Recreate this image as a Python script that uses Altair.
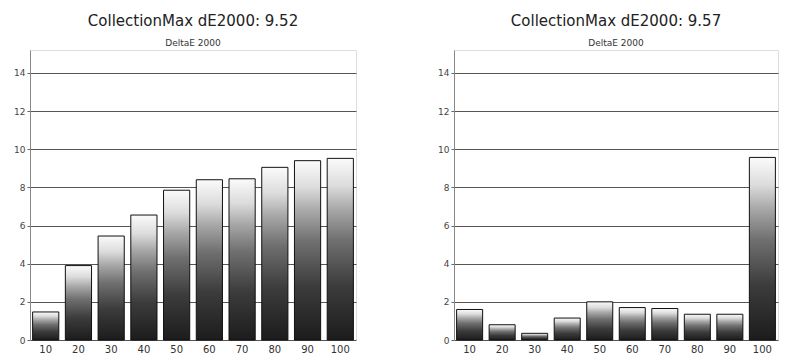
import altair as alt
import pandas as pd

categories = ["10", "20", "30", "40", "50", "60", "70", "80", "90", "100"]
left_values = [1.47, 3.9, 5.45, 6.55, 7.85, 8.4, 8.45, 9.05, 9.4, 9.52]
right_values = [1.6, 0.8, 0.35, 1.15, 2.0, 1.7, 1.65, 1.35, 1.35, 9.57]
left_title = "CollectionMax dE2000: 9.52"
right_title = "CollectionMax dE2000: 9.57"
subtitle = "DeltaE 2000"
y_ticks = [0, 2, 4, 6, 8, 10, 12, 14]

grad = alt.Gradient(
    gradient="linear",
    stops=[
        alt.GradientStop(color="#1c1c1c", offset=0),
        alt.GradientStop(color="#3c3c3c", offset=0.3),
        alt.GradientStop(color="#707070", offset=0.55),
        alt.GradientStop(color="#a8a8a8", offset=0.72),
        alt.GradientStop(color="#dcdcdc", offset=0.85),
        alt.GradientStop(color="#fbfbfb", offset=1),
    ],
    x1=0, x2=0, y1=1, y2=0,
)


def panel(values, title, w):
    df = pd.DataFrame({"cat": categories, "val": values})
    return alt.Chart(df).mark_bar(
        fill=grad, stroke="#111111", strokeWidth=1
    ).encode(
        x=alt.X("cat:N", sort=categories, title=None,
                scale=alt.Scale(paddingInner=0.2, paddingOuter=0.08),
                axis=alt.Axis(labelAngle=0, labelFontSize=10, labelColor="#333",
                              ticks=False, domain=False, labelPadding=4,
                              labelFont="DejaVu Sans")),
        y=alt.Y("val:Q", title=None,
                scale=alt.Scale(domain=[0, 15.2], nice=False),
                axis=alt.Axis(values=y_ticks, grid=True, gridColor="#555",
                              gridWidth=1.2, labelFontSize=9, labelColor="#444",
                              tickSize=3, tickColor="#666", domainColor="#888",
                              labelPadding=2, labelFont="DejaVu Sans")),
    ).properties(
        width=w, height=290,
        title=alt.TitleParams(
            text=title, subtitle=subtitle, fontSize=15, fontWeight="normal",
            font="DejaVu Sans", color="#222", subtitleFontSize=9,
            subtitleColor="#333", subtitleFont="DejaVu Sans",
            subtitlePadding=10, offset=2, anchor="middle",
        ),
    )


chart = alt.hconcat(
    panel(left_values, left_title, 326),
    panel(right_values, right_title, 324),
    spacing=80,
).configure_view(stroke="#cfcfcf").configure(background="white")

chart.save("out.html", embed_options={"renderer": "svg", "actions": False})
